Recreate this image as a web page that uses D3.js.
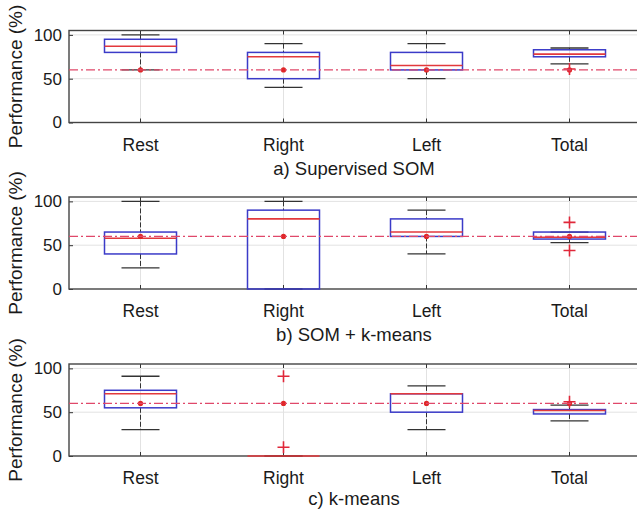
<!DOCTYPE html>
<html>
<head>
<meta charset="utf-8">
<script src="https://cdn.jsdelivr.net/npm/d3@7"></script>
<style>
  body { margin: 0; background: #fff; }
  svg { display: block; font-family: "Liberation Sans", Arial, sans-serif; }
</style>
</head>
<body>
<div id="chart"></div>
<script>
// categories and panel titles
const categories = ["Rest", "Right", "Left", "Total"];
const titles = ["a) Supervised SOM", "b) SOM + k-means", "c) k-means"];
const yTicks = [0, 50, 100];
const threshold = 60;

// box statistics per category: lower whisker, q1, median, q3, upper whisker, outliers
const supervisedSOM = [
  { lo: 60, q1: 80, med: 87, q3: 95, hi: 100, out: [] },
  { lo: 40, q1: 50, med: 75, q3: 80, hi: 90, out: [] },
  { lo: 50, q1: 60, med: 65, q3: 80, hi: 90, out: [] },
  { lo: 67, q1: 75, med: 78, q3: 83, hi: 85, out: [61] }
];
const somKmeans = [
  { lo: 24, q1: 40, med: 58, q3: 65, hi: 100, out: [] },
  { lo: 0, q1: 0, med: 80, q3: 90, hi: 100, out: [] },
  { lo: 40, q1: 60, med: 65, q3: 80, hi: 90, out: [] },
  { lo: 53, q1: 57, med: 59, q3: 65, hi: 65, out: [76, 44] }
];
const kmeans = [
  { lo: 30, q1: 55, med: 71, q3: 75, hi: 91, out: [] },
  { lo: 0, q1: 0, med: 0, q3: 0, hi: 0, out: [91, 10] },
  { lo: 30, q1: 50, med: 71, q3: 71, hi: 80, out: [] },
  { lo: 40, q1: 48, med: 52, q3: 53, hi: 58, out: [62] }
];
const panels = [supervisedSOM, somKmeans, kmeans];

const width = 637, height = 514;
const plotLeft = 69, plotRight = 641, plotH = 92;
const tops = [30.5, 197, 364];
const boxHalf = 36, capHalf = 19;

const svg = d3.select("#chart").append("svg")
  .attr("width", width)
  .attr("height", height);

const x = d3.scaleBand().domain(categories).range([plotLeft, plotRight]);
const cx = function (c) { return x(c) + x.bandwidth() / 2; };

panels.forEach(function (data, i) {
  const top = tops[i], bottom = top + plotH;
  const y = d3.scaleLinear().domain([0, 105]).range([bottom, top]);
  const g = svg.append("g");

  // grid
  g.append("g").selectAll("line")
    .data(yTicks.filter(function (d) { return d > 0; }))
    .enter().append("line")
      .attr("x1", plotLeft).attr("x2", plotRight)
      .attr("y1", function (d) { return y(d); })
      .attr("y2", function (d) { return y(d); })
      .attr("stroke", "#e2e2e2").attr("stroke-width", 1);
  g.append("g").selectAll("line")
    .data(categories)
    .enter().append("line")
      .attr("x1", cx).attr("x2", cx)
      .attr("y1", top).attr("y2", bottom)
      .attr("stroke", "#e2e2e2").attr("stroke-width", 1);

  // axes
  const ay = g.append("g")
    .attr("transform", "translate(" + plotLeft + ",0)")
    .call(d3.axisLeft(y).tickValues(yTicks).tickSize(-4).tickPadding(7));
  const ab = g.append("g")
    .attr("transform", "translate(0," + bottom + ")")
    .call(d3.axisBottom(x).tickSize(-4).tickPadding(16));
  const at = g.append("g")
    .attr("transform", "translate(0," + top + ")")
    .call(d3.axisTop(x).tickSize(-4).tickFormat(""));
  [ay, ab, at].forEach(function (a) {
    a.select(".domain").remove();
    a.selectAll(".tick line").attr("stroke", "#333").attr("stroke-width", 1);
    a.selectAll("text").attr("fill", "#1a1a1a").attr("font-size", 17);
  });
  ab.selectAll("text").attr("font-size", 17.5);

  // frame
  g.append("rect")
    .attr("x", plotLeft).attr("y", top)
    .attr("width", plotRight - plotLeft).attr("height", plotH)
    .attr("fill", "none").attr("stroke", "#444").attr("stroke-width", 1.4);

  // boxes
  const box = g.append("g").selectAll("g")
    .data(data)
    .enter().append("g")
      .attr("transform", function (d, j) { return "translate(" + cx(categories[j]) + ",0)"; });

  // whiskers
  box.append("line")
    .attr("y1", function (d) { return y(d.hi); })
    .attr("y2", function (d) { return y(d.q3); })
    .attr("stroke", "#333").attr("stroke-dasharray", "5,2").attr("stroke-width", 1);
  box.append("line")
    .attr("y1", function (d) { return y(d.q1); })
    .attr("y2", function (d) { return y(d.lo); })
    .attr("stroke", "#333").attr("stroke-dasharray", "5,2").attr("stroke-width", 1);
  box.append("line")
    .attr("x1", -capHalf).attr("x2", capHalf)
    .attr("y1", function (d) { return y(d.hi); })
    .attr("y2", function (d) { return y(d.hi); })
    .attr("stroke", "#333").attr("stroke-width", 1.3);
  box.append("line")
    .attr("x1", -capHalf).attr("x2", capHalf)
    .attr("y1", function (d) { return y(d.lo); })
    .attr("y2", function (d) { return y(d.lo); })
    .attr("stroke", "#333").attr("stroke-width", 1.3);

  box.append("rect")
    .attr("x", -boxHalf).attr("width", boxHalf * 2)
    .attr("y", function (d) { return y(d.q3); })
    .attr("height", function (d) { return y(d.q1) - y(d.q3); })
    .attr("fill", "none")
    .attr("stroke", "#3b3bc8").attr("stroke-width", 1.5);

  box.append("line")
    .attr("x1", -boxHalf).attr("x2", boxHalf)
    .attr("y1", function (d) { return y(d.med); })
    .attr("y2", function (d) { return y(d.med); })
    .attr("stroke", "#e3393c").attr("stroke-width", 1.6);

  // threshold line
  g.append("line")
    .attr("x1", plotLeft).attr("x2", plotRight)
    .attr("y1", y(threshold)).attr("y2", y(threshold))
    .attr("stroke", "#e0486a").attr("stroke-width", 1.3)
    .attr("stroke-dasharray", "9,3,2,3");

  box.append("circle")
    .attr("cy", y(threshold)).attr("r", 2.6)
    .attr("fill", "#e02828");

  // outliers
  box.selectAll("path.out")
    .data(function (d) { return d.out; })
    .enter().append("path")
      .attr("class", "out")
      .attr("d", function (v) {
        const yy = y(v);
        return "M-6," + yy + "H6M0," + (yy - 6) + "V" + (yy + 6);
      })
      .attr("stroke", "#e0283a").attr("stroke-width", 1.6).attr("fill", "none");

  // y label
  g.append("text")
    .attr("transform", "translate(22," + (top + plotH / 2) + ") rotate(-90)")
    .attr("text-anchor", "middle")
    .attr("font-size", 19)
    .attr("fill", "#1a1a1a")
    .text("Performance (%)");

  // subtitle
  g.append("text")
    .attr("x", (plotLeft + plotRight) / 2 - 1)
    .attr("y", bottom + (i === 2 ? 49 : 52))
    .attr("text-anchor", "middle")
    .attr("font-size", 18.5)
    .attr("fill", "#1a1a1a")
    .text(titles[i]);
});
</script>
</body>
</html>
